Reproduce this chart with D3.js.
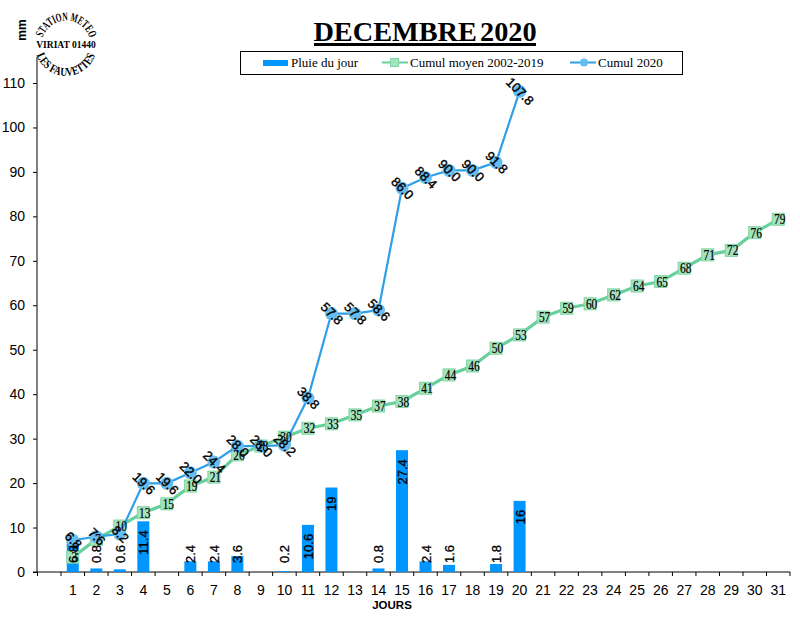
<!DOCTYPE html>
<html>
<head>
<meta charset="utf-8">
<script src="https://cdn.jsdelivr.net/npm/d3@7"></script>
<style>
  body { margin: 0; background: #fff; }
  text { fill: #000; }
</style>
</head>
<body>
<div id="main"></div>
<script>
var days = d3.range(1, 32);
var rain = [6.8, 0.8, 0.6, 11.4, 0, 2.4, 2.4, 3.6, 0, 0.2, 10.6, 19, 0, 0.8, 27.4, 2.4, 1.6, 0, 1.8, 16];
var cumul2020 = [6.8, 7.6, 8.2, 19.6, 19.6, 22.0, 24.4, 28.0, 28.0, 28.2, 38.8, 57.8, 57.8, 58.6, 86.0, 88.4, 90.0, 90.0, 91.8, 107.8];
var cumulMoyen = [3, 7, 10, 13, 15, 19, 21, 26, 28, 30, 32, 33, 35, 37, 38, 41, 44, 46, 50, 53, 57, 59, 60, 62, 64, 65, 68, 71, 72, 76, 79];
var yTicks = d3.range(0, 111, 10);

var width = 800;
var height = 626;
var sans = "'Liberation Sans', Arial, sans-serif";
var serif = "'Liberation Serif', 'Times New Roman', serif";
var barColor = "#0096ff";
var greenLine = "#66cf9c";
var greenFill = "#a5e3bd";
var blueLine = "#2f9fe8";
var blueFill = "#66bdf2";

var svg = d3.select("#main").append("svg")
  .attr("width", width)
  .attr("height", height);

// the first band stays empty, as in the original
var x = d3.scaleBand()
  .domain([0].concat(days))
  .range([37.5, 790]);

var y = d3.scaleLinear()
  .domain([0, 110])
  .range([572, 83]);

// the lines sit a little higher than the bars in the original
var yLine = d3.scaleLinear()
  .domain([0, 110])
  .range([570.5, 81.5]);

function cx(i) {
  return x(i + 1) + x.bandwidth() / 2;
}

// axes
var yAxis = svg.append("g")
  .attr("transform", "translate(37,0)")
  .call(d3.axisLeft(y).tickValues(yTicks).tickSize(4).tickPadding(8));
yAxis.select(".domain").remove();
yAxis.append("line")
  .attr("x1", 0).attr("x2", 0)
  .attr("y1", 57).attr("y2", 572)
  .attr("stroke", "#000");
yAxis.selectAll("text")
  .style("font-family", sans)
  .style("font-size", "14px");

var xAxisLine = svg.append("g");
xAxisLine.append("line")
  .attr("x1", 33).attr("x2", 790)
  .attr("y1", 572).attr("y2", 572)
  .attr("stroke", "#000");
xAxisLine.selectAll(".xtick")
  .data(x.domain().concat([32]))
  .enter().append("line")
  .attr("class", "xtick")
  .attr("x1", function(d) { return d == 32 ? 790 : x(d); })
  .attr("x2", function(d) { return d == 32 ? 790 : x(d); })
  .attr("y1", 572).attr("y2", 576)
  .attr("stroke", "#000");
xAxisLine.selectAll(".xlab")
  .data(days)
  .enter().append("text")
  .attr("class", "xlab")
  .attr("x", function(d) { return x(d) + x.bandwidth() / 2; })
  .attr("y", 594.5)
  .attr("text-anchor", "middle")
  .style("font-family", sans)
  .style("font-size", "14px")
  .text(function(d) { return d; });

// bars
var barW = 12;
svg.selectAll(".bar")
  .data(rain)
  .enter().append("rect")
  .attr("class", "bar")
  .attr("x", function(d, i) { return cx(i) - barW / 2; })
  .attr("y", function(d) { return y(d); })
  .attr("width", barW)
  .attr("height", function(d) { return 572 - y(d); })
  .attr("fill", barColor);

// lines
var line = d3.line()
  .x(function(d, i) { return cx(i); })
  .y(function(d) { return yLine(d); });

svg.append("path")
  .attr("d", line(cumulMoyen))
  .attr("fill", "none")
  .attr("stroke", greenLine)
  .attr("stroke-width", 3.2);

svg.selectAll(".sq")
  .data(cumulMoyen)
  .enter().append("rect")
  .attr("class", "sq")
  .attr("x", function(d, i) { return cx(i) - 6; })
  .attr("y", function(d) { return yLine(d) - 6; })
  .attr("width", 12)
  .attr("height", 12)
  .attr("fill", greenFill)
  .attr("stroke", "#7fd6a4")
  .attr("stroke-width", 1);

svg.append("path")
  .attr("d", line(cumul2020))
  .attr("fill", "none")
  .attr("stroke", blueLine)
  .attr("stroke-width", 2.2);

svg.selectAll(".dot")
  .data(cumul2020)
  .enter().append("circle")
  .attr("class", "dot")
  .attr("cx", function(d, i) { return cx(i); })
  .attr("cy", function(d) { return yLine(d); })
  .attr("r", 6.5)
  .attr("fill", blueFill);

// labels
svg.selectAll(".lab-green")
  .data(cumulMoyen)
  .enter().append("text")
  .attr("class", "lab-green")
  .attr("text-anchor", "middle")
  .attr("transform", function(d, i) {
    return "translate(" + (cx(i) + 1.5) + "," + (yLine(d) + 5) + ") scale(0.88,1.05)";
  })
  .style("font-family", serif)
  .style("font-size", "13px")
  .style("stroke", "#000")
  .style("stroke-width", 0.2)
  .text(function(d) { return d; });

rain.forEach(function(d, i) {
  if (d == 0) return;
  var t = svg.append("text")
    .attr("class", "lab-rain")
    .attr("text-anchor", "end")
    .style("font-family", sans)
    .style("font-size", "13px")
    .style("stroke", "#000")
    .style("stroke-width", 0.3)
    .text(d);
  var len = t.node().getComputedTextLength();
  var yTop = y(d) + 9;
  // short bars: label sits at a fixed height near the axis
  if (yTop + len > 563) yTop = 563 - len;
  t.attr("transform", "translate(" + (cx(i) + 5) + "," + yTop + ") rotate(-90)");
});

svg.selectAll(".lab-blue")
  .data(cumul2020)
  .enter().append("text")
  .attr("class", "lab-blue")
  .attr("text-anchor", "middle")
  .attr("dy", "0.35em")
  .attr("transform", function(d, i) {
    return "translate(" + (cx(i) + 0.5) + "," + yLine(d) + ") rotate(45)";
  })
  .style("font-family", sans)
  .style("font-size", "13px")
  .style("stroke", "#000")
  .style("stroke-width", 0.4)
  .text(function(d) { return d.toFixed(1); });

// title
svg.append("text")
  .attr("x", 425)
  .attr("y", 41)
  .attr("text-anchor", "middle")
  .style("font-family", serif)
  .style("font-size", "28.3px")
  .style("font-weight", "bold")
  .style("word-spacing", "-4px")
  .text("DECEMBRE 2020");
svg.append("rect")
  .attr("x", 314).attr("y", 43)
  .attr("width", 222).attr("height", 3)
  .attr("fill", "#000");

// legend
var legend = svg.append("g");
legend.append("rect")
  .attr("x", 240.5).attr("y", 51.5)
  .attr("width", 442).attr("height", 23)
  .attr("fill", "#fff")
  .attr("stroke", "#000");

var legendText = [["Pluie du jour", 291], ["Cumul moyen 2002-2019", 410], ["Cumul 2020", 598]];
legend.selectAll(".leg")
  .data(legendText)
  .enter().append("text")
  .attr("class", "leg")
  .attr("x", function(d) { return d[1]; })
  .attr("y", 67)
  .style("font-family", serif)
  .style("font-size", "13px")
  .text(function(d) { return d[0]; });

legend.append("rect")
  .attr("x", 263).attr("y", 60)
  .attr("width", 25).attr("height", 6)
  .attr("fill", barColor);
legend.append("line")
  .attr("x1", 382).attr("x2", 408)
  .attr("y1", 62.5).attr("y2", 62.5)
  .attr("stroke", greenLine)
  .attr("stroke-width", 2);
legend.append("rect")
  .attr("x", 390.5).attr("y", 58.5)
  .attr("width", 8).attr("height", 8)
  .attr("fill", greenFill)
  .attr("stroke", "#7fd6a4");
legend.append("line")
  .attr("x1", 570).attr("x2", 596)
  .attr("y1", 62.5).attr("y2", 62.5)
  .attr("stroke", blueLine)
  .attr("stroke-width", 2);
legend.append("circle")
  .attr("cx", 584).attr("cy", 62.5)
  .attr("r", 4)
  .attr("fill", blueFill);

// axis names
svg.append("text")
  .attr("text-anchor", "middle")
  .attr("transform", "translate(26,30) rotate(-90)")
  .style("font-family", sans)
  .style("font-size", "12px")
  .style("font-weight", "bold")
  .text("mm");
svg.append("text")
  .attr("x", 392)
  .attr("y", 609)
  .attr("text-anchor", "middle")
  .style("font-family", sans)
  .style("font-size", "11.5px")
  .style("font-weight", "bold")
  .text("JOURS");

// station stamp
var stamp = svg.append("g").attr("transform", "translate(66,45)");
stamp.append("path")
  .attr("id", "arcTop")
  .attr("d", "M-23.3,-7.5A24.5,24.5 0 0,1 23.3,-7.5")
  .attr("fill", "none");
stamp.append("path")
  .attr("id", "arcBottom")
  .attr("d", "M-29.3,10A31,31 0 0,0 29.3,10")
  .attr("fill", "none");
stamp.append("text")
  .style("font-family", serif)
  .style("font-size", "12px")
  .style("font-weight", "bold")
  .append("textPath")
  .attr("href", "#arcTop")
  .attr("textLength", 62)
  .attr("lengthAdjust", "spacingAndGlyphs")
  .text("STATION METEO");
stamp.append("text")
  .style("font-family", serif)
  .style("font-size", "12px")
  .style("font-weight", "bold")
  .append("textPath")
  .attr("href", "#arcBottom")
  .attr("textLength", 76)
  .attr("lengthAdjust", "spacingAndGlyphs")
  .text("LES FAUVETTES");
stamp.append("text")
  .attr("x", 0)
  .attr("y", 2.5)
  .attr("text-anchor", "middle")
  .style("font-family", serif)
  .style("font-size", "9.5px")
  .style("font-weight", "bold")
  .text("VIRIAT 01440");
</script>
</body>
</html>
